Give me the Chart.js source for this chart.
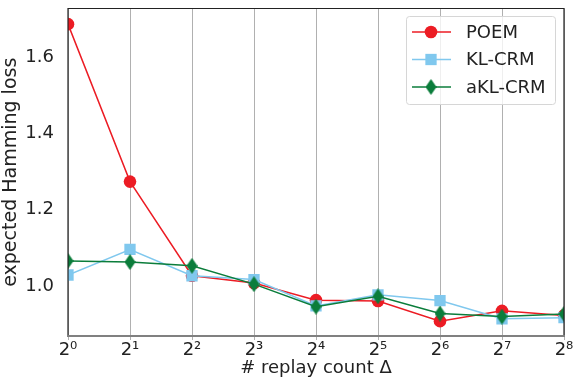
<!DOCTYPE html>
<html lang="en">
<head>
    <meta charset="UTF-8">
    <title>Expected Hamming loss vs replay count</title>
    <script src="https://cdn.jsdelivr.net/npm/chart.js"></script>
    <style>
        html, body { margin: 0; padding: 0; background: #fff; }
        #wrap { width: 580px; height: 379px; }
    </style>
</head>
<body>
    <div id="wrap"><canvas id="lossChart" width="580" height="379"></canvas></div>
    <script>
        // replay count exponents (2^0 .. 2^8)
        const exponents = [0, 1, 2, 3, 4, 5, 6, 7, 8];
        const tickLabels = ['2⁰', '2¹', '2²', '2³', '2⁴', '2⁵', '2⁶', '2⁷', '2⁸'];
        const yTicks = [1.0, 1.2, 1.4, 1.6];

        const poem = [1.687, 1.274, 1.027, 1.008, 0.963, 0.961, 0.908, 0.935, 0.923];
        const klCrm = [1.029, 1.096, 1.027, 1.017, 0.948, 0.977, 0.962, 0.914, 0.917];
        const aklCrm = [1.066, 1.063, 1.053, 1.005, 0.946, 0.973, 0.928, 0.920, 0.927];

        const FONT = "'DejaVu Sans', sans-serif";

        // thin diamond marker like matplotlib 'd'
        function thinDiamond(color, w, h) {
            const c = document.createElement('canvas');
            c.width = w; c.height = h;
            const g = c.getContext('2d');
            g.fillStyle = color;
            g.beginPath();
            g.moveTo(w / 2, 0);
            g.lineTo(w, h / 2);
            g.lineTo(w / 2, h);
            g.lineTo(0, h / 2);
            g.closePath();
            g.fill();
            return c;
        }

        const RED = '#ec1c24';
        const BLUE = '#80c8ee';
        const GREEN = '#0b7d3b';

        const toPoints = vals => vals.map((v, i) => ({ x: exponents[i], y: v }));

        const datasets = [
            {
                label: 'POEM', data: toPoints(poem), borderColor: RED, backgroundColor: RED,
                pointStyle: 'circle', pointRadius: 6.3, pointBorderWidth: 0, borderWidth: 1.5, order: 3
            },
            {
                label: 'KL-CRM', data: toPoints(klCrm), borderColor: BLUE, backgroundColor: BLUE,
                pointStyle: 'rect', pointRadius: 8, pointBorderWidth: 0, borderWidth: 1.5, order: 2
            },
            {
                label: 'aKL-CRM', data: toPoints(aklCrm), borderColor: GREEN, backgroundColor: GREEN,
                pointStyle: thinDiamond(GREEN, 11, 16), pointRadius: 7, borderWidth: 1.5, order: 1
            }
        ];

        // legend drawn with the line-through-marker look
        const lineLegend = {
            id: 'lineLegend',
            afterDraw(chart) {
                const ctx = chart.ctx;
                const x0 = 406, y0 = 16, w = 149, h = 88;
                ctx.save();
                ctx.fillStyle = 'rgba(255,255,255,0.8)';
                ctx.strokeStyle = '#d6d6d6';
                ctx.lineWidth = 1;
                ctx.beginPath();
                ctx.roundRect(x0 + 0.5, y0 + 0.5, w, h, 3);
                ctx.fill();
                ctx.stroke();
                ctx.font = '18px ' + FONT;
                ctx.textBaseline = 'middle';
                chart.data.datasets.forEach((ds, i) => {
                    const y = 32 + i * 27.5;
                    ctx.strokeStyle = ds.borderColor;
                    ctx.lineWidth = 1.5;
                    ctx.beginPath();
                    ctx.moveTo(412, y);
                    ctx.lineTo(451, y);
                    ctx.stroke();
                    ctx.fillStyle = ds.backgroundColor;
                    Chart.helpers.drawPoint(ctx, {
                        pointStyle: ds.pointStyle, radius: ds.pointRadius, borderWidth: 0, rotation: 0
                    }, 431, y);
                    ctx.fillStyle = '#222';
                    ctx.fillText(ds.label, 466, y + 1);
                });
                ctx.restore();
            }
        };

        // frame around the plot area
        const frame = {
            id: 'frame',
            afterDatasetsDraw(chart) {
                const a = chart.chartArea, ctx = chart.ctx;
                ctx.save();
                ctx.strokeStyle = '#222';
                ctx.lineWidth = 1.2;
                ctx.beginPath();
                ctx.moveTo(a.left, a.bottom);
                ctx.lineTo(a.left, a.top);
                ctx.lineTo(a.right, a.top);
                ctx.lineTo(a.right, a.bottom);
                ctx.stroke();
                ctx.strokeStyle = '#808080';
                ctx.lineWidth = 2;
                ctx.beginPath();
                ctx.moveTo(a.left - 1, a.bottom);
                ctx.lineTo(a.right + 1, a.bottom);
                ctx.stroke();
                ctx.restore();
            }
        };

        new Chart(document.getElementById('lossChart'), {
            type: 'line',
            data: { datasets: datasets },
            plugins: [frame, lineLegend],
            options: {
                responsive: false,
                animation: false,
                layout: { padding: { top: 7, right: 16, left: 0, bottom: 0 } },
                plugins: { legend: { display: false }, tooltip: { enabled: false } },
                scales: {
                    x: {
                        type: 'linear',
                        min: 0,
                        max: 8,
                        afterBuildTicks: s => { s.ticks = exponents.map(v => ({ value: v })); },
                        afterFit: s => { s.height = 43; s.paddingLeft = 0; s.paddingRight = 0; },
                        grid: { display: true, color: '#b0b0b0', lineWidth: 1, drawTicks: true, tickLength: 4 },
                        border: { display: false },
                        ticks: {
                            color: '#222',
                            font: { family: FONT, size: 18 },
                            padding: 0,
                            maxRotation: 0,
                            callback: v => tickLabels[exponents.indexOf(v)]
                        },
                        title: {
                            display: true,
                            text: '# replay count Δ',
                            color: '#222',
                            font: { family: FONT, size: 18 },
                            padding: { top: 0, bottom: 0 }
                        }
                    },
                    y: {
                        type: 'linear',
                        min: 0.869,
                        max: 1.728,
                        afterBuildTicks: s => { s.ticks = yTicks.map(v => ({ value: v })); },
                        afterFit: s => { s.width = 68; s.paddingTop = 0; s.paddingBottom = 0; },
                        grid: { display: false, drawTicks: true },
                        border: { display: false },
                        ticks: {
                            color: '#222',
                            font: { family: FONT, size: 18 },
                            padding: 6,
                            callback: v => v.toFixed(1)
                        },
                        title: {
                            display: true,
                            text: 'expected Hamming loss',
                            color: '#222',
                            font: { family: FONT, size: 19 },
                            padding: { top: 0, bottom: 2 }
                        }
                    }
                }
            }
        });
    </script>
</body>
</html>
